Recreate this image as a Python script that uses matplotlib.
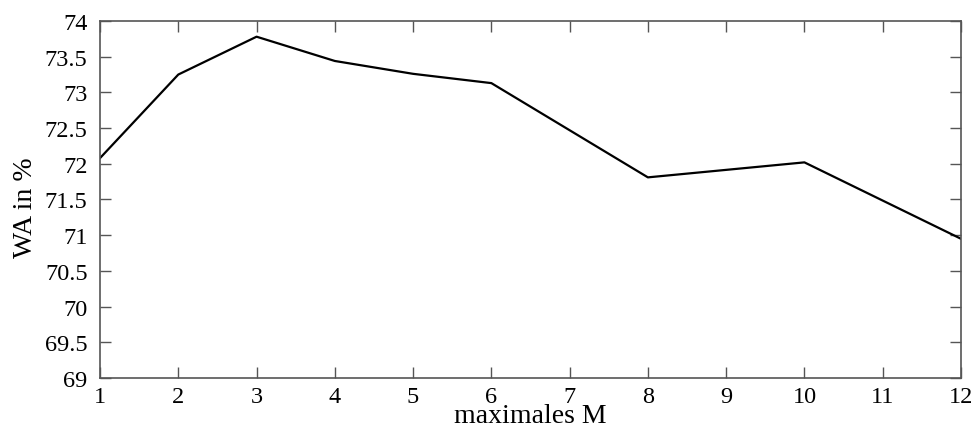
import matplotlib.pyplot as plt

# WA values over maximal M
m_values = [1, 2, 3, 4, 5, 6, 8, 10, 12]
wa_percent = [72.08, 73.25, 73.78, 73.44, 73.26, 73.13, 71.81, 72.02, 70.95]

plt.rcParams["font.family"] = ["Liberation Serif", "DejaVu Serif"]

fig = plt.figure(figsize=(9.75, 4.27), dpi=100)
ax = fig.add_axes([0.1026, 0.1124, 0.8830, 0.8361])
ax.plot(m_values, wa_percent, color="black", linewidth=1.6)

ax.set_xlim(1, 12)
ax.set_ylim(69, 74)
ax.set_xticks(range(1, 13))
ax.set_yticks([69 + 0.5 * i for i in range(11)])
ax.set_yticklabels(["69", "69.5", "70", "70.5", "71", "71.5", "72", "72.5", "73", "73.5", "74"])
ax.tick_params(direction="in", top=True, right=True, length=8, width=1.0,
               color="#555555", labelsize=17.5)
ax.tick_params(axis="y", pad=9)
ax.tick_params(axis="x", pad=6)
for s in ax.spines.values():
    s.set_color("#555555")
    s.set_linewidth(1.2)

ax.set_xlabel("maximales M", fontsize=20, va="baseline")
ax.set_ylabel("WA in %", fontsize=20)
ax.xaxis.set_label_coords(0.5, -0.122)
ax.yaxis.set_label_coords(-0.072, 0.48)

fig.savefig("out.png", dpi=100)
